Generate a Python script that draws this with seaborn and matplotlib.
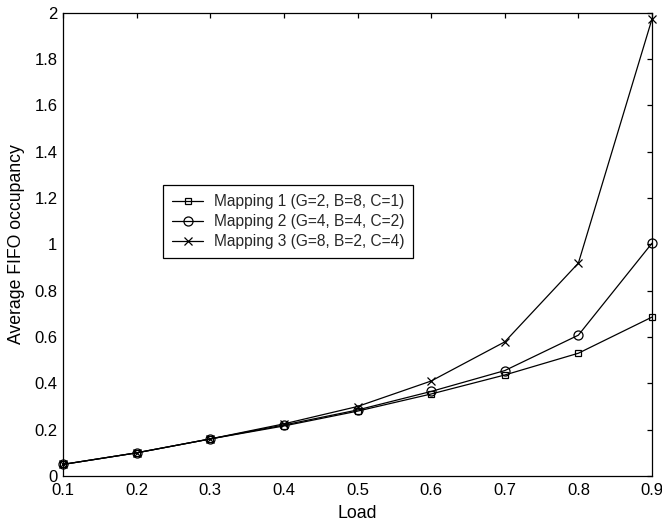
import matplotlib
matplotlib.use("Agg")
import matplotlib.pyplot as plt
import seaborn as sns
import pandas as pd
from matplotlib.ticker import FuncFormatter

load = [0.1, 0.2, 0.3, 0.4, 0.5, 0.6, 0.7, 0.8, 0.9]
mapping1 = [0.05, 0.10, 0.16, 0.216, 0.28, 0.354, 0.436, 0.53, 0.686]
mapping2 = [0.05, 0.10, 0.16, 0.22, 0.285, 0.365, 0.455, 0.608, 1.005]
mapping3 = [0.05, 0.10, 0.16, 0.225, 0.30, 0.41, 0.579, 0.919, 1.973]
labels = ["Mapping 1 (G=2, B=8, C=1)",
          "Mapping 2 (G=4, B=4, C=2)",
          "Mapping 3 (G=8, B=2, C=4)"]
markers = ["s", "o", "x"]
msizes = [5, 6.5, 5.5]

sns.set_theme(style="white")
plt.rcParams["font.family"] = ["Liberation Sans", "DejaVu Sans"]

fig = plt.figure(figsize=(6.62, 5.25), dpi=100)
ax = fig.add_axes([63 / 662, 49 / 525, 589 / 662, 463.3 / 525])

for vals, lab, mk, ms in zip([mapping1, mapping2, mapping3], labels, markers, msizes):
    df = pd.DataFrame({"Load": load, "occ": vals})
    sns.lineplot(data=df, x="Load", y="occ", ax=ax, color="black", linewidth=0.9,
                 marker=mk, markersize=ms, markerfacecolor="none",
                 markeredgecolor="black", markeredgewidth=0.9, label=lab,
                 clip_on=False)

ax.set_xlim(0.1, 0.9)
ax.set_ylim(0, 2)
ax.set_xticks(load)
ax.set_yticks([0, 0.2, 0.4, 0.6, 0.8, 1.0, 1.2, 1.4, 1.6, 1.8, 2.0])
ax.xaxis.set_major_formatter(FuncFormatter(lambda v, p: f"{v:g}"))
ax.yaxis.set_major_formatter(FuncFormatter(lambda v, p: f"{v:g}"))
ax.tick_params(direction="in", length=3.6, width=0.9, top=True, right=True,
               labelsize=12, colors="black")
ax.tick_params(axis="x", pad=5)
ax.tick_params(axis="y", pad=4)
for s in ax.spines.values():
    s.set_color("black")
    s.set_linewidth(0.9)
    s.set_visible(True)

ax.set_xlabel("Load", fontsize=12.7, color="black", labelpad=5)
ax.set_ylabel("Average FIFO occupancy", fontsize=12.7, color="black", labelpad=7)

leg = ax.legend(loc="upper left", bbox_to_anchor=(163 / 662, 1 - 185 / 525),
                bbox_transform=fig.transFigure, fontsize=11.2, frameon=True,
                fancybox=False, edgecolor="black", framealpha=1,
                borderpad=0.6, labelspacing=0.31, handlelength=2.0,
                handletextpad=0.65, borderaxespad=0)
leg.get_frame().set_linewidth(0.9)

fig.savefig("out.png", dpi=100)
